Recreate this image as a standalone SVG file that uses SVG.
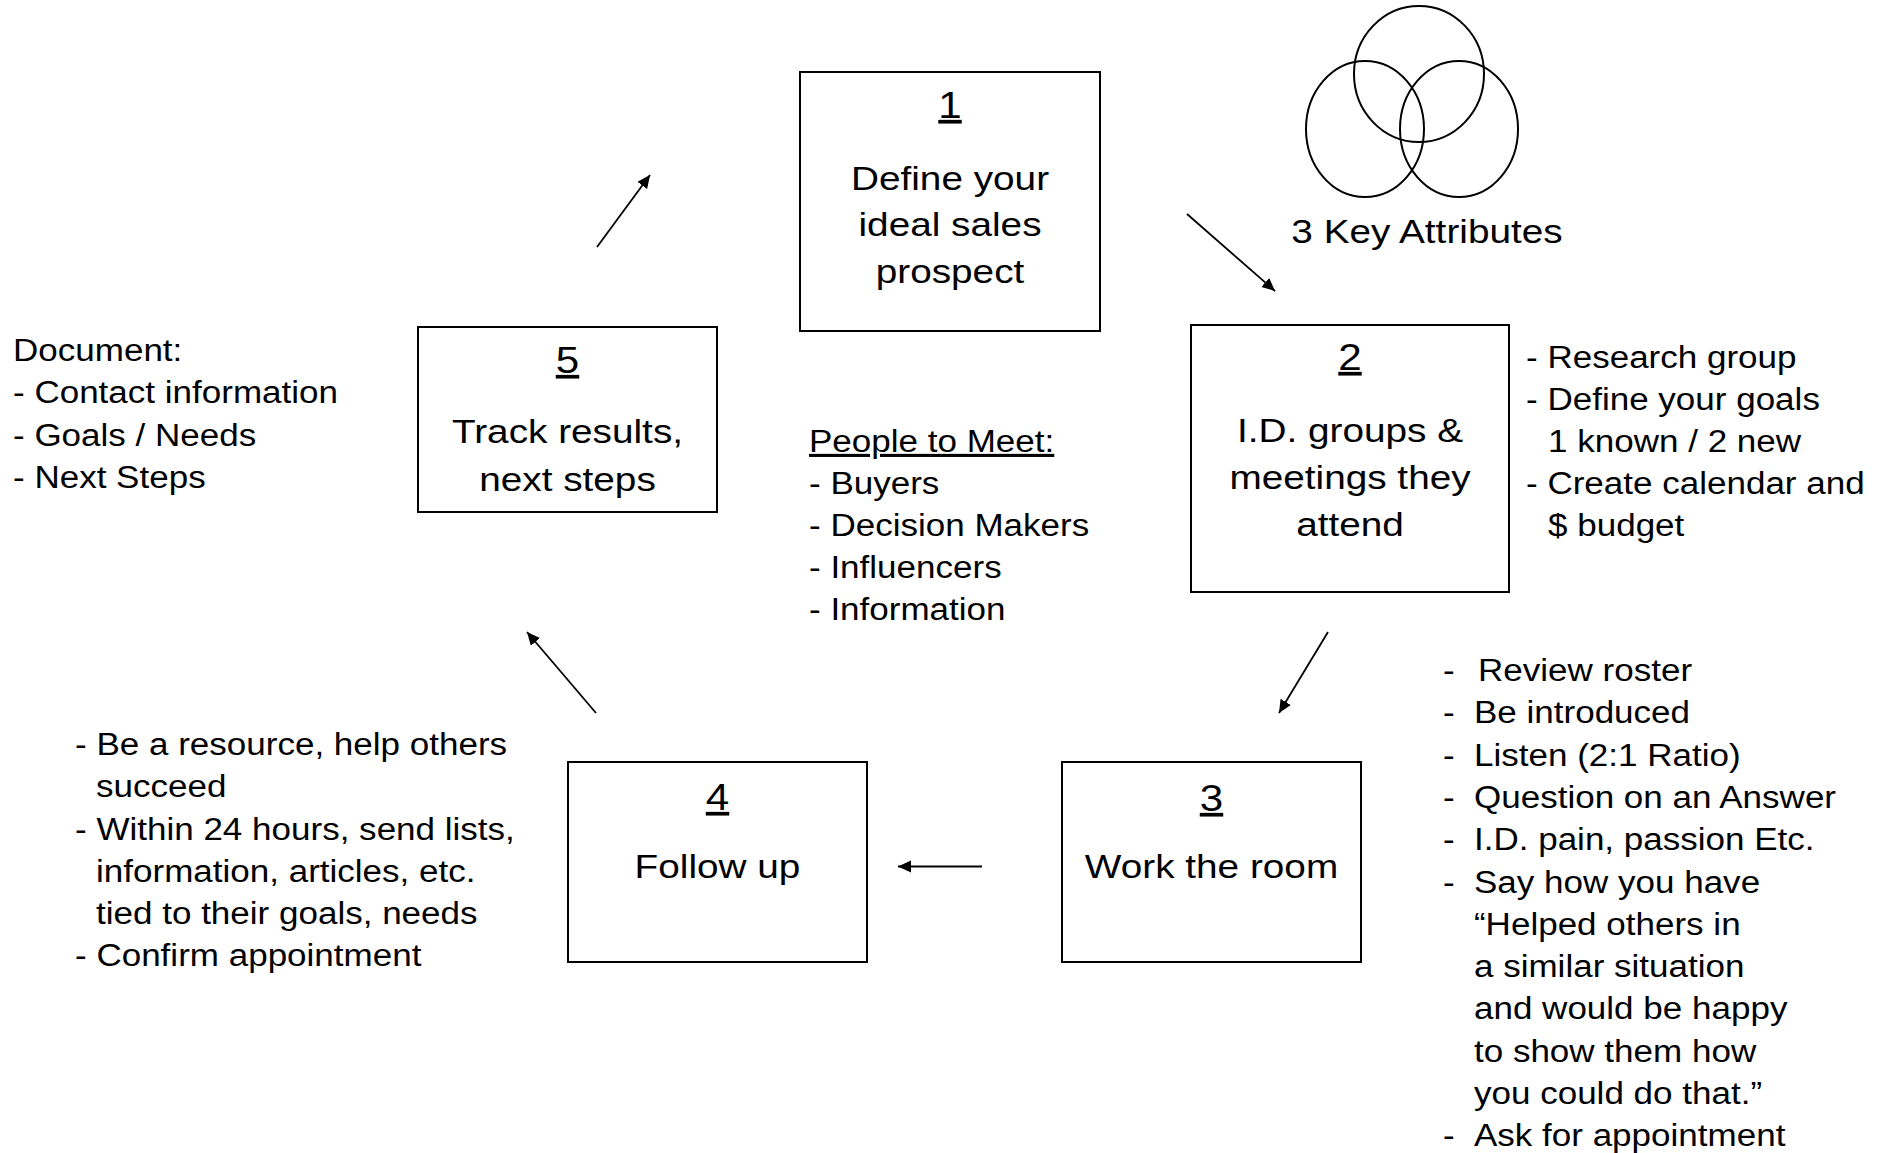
<svg xmlns="http://www.w3.org/2000/svg" width="1883" height="1153" viewBox="0 0 1883 1153">
<defs>
<marker id="ah" markerUnits="userSpaceOnUse" markerWidth="14" markerHeight="13" refX="13" refY="6" orient="auto">
<path d="M0,0 L13,6 L0,12 z" fill="#000"/>
</marker>
<style>
.box{fill:#fff;stroke:#000;stroke-width:2}
.ell{fill:none;stroke:#000;stroke-width:2}
.con{stroke:#000;stroke-width:1.8;fill:none;marker-end:url(#ah)}
text{font-family:"Liberation Sans",Arial,sans-serif;fill:#000}
.big{font-size:34px}
.num{font-size:37px;text-decoration:underline}
.side{font-size:31px}
</style>
</defs>
<rect width="1883" height="1153" fill="#fff"/>

<g id="connectors">
<line class="con" x1="597" y1="247" x2="650" y2="175"/>
<line class="con" x1="1187" y1="214" x2="1275" y2="291"/>
<line class="con" x1="1328" y1="632" x2="1279" y2="713"/>
<line class="con" x1="982" y1="866.5" x2="898" y2="866.5"/>
<line class="con" x1="596" y1="713" x2="527" y2="632"/>
</g>

<g id="node1">
<rect class="box" x="800" y="72" width="300" height="259"/>
<text class="num" text-anchor="middle" transform="translate(950,118) scale(1.14,1)">1</text>
<text class="big" text-anchor="middle" transform="translate(950,0) scale(1.14,1)"><tspan x="0" y="190">Define your</tspan><tspan x="0" y="236">ideal sales</tspan><tspan x="0" y="283">prospect</tspan></text>
</g>

<g id="attributes">
<ellipse class="ell" cx="1419" cy="74" rx="65" ry="68"/>
<ellipse class="ell" cx="1365" cy="129" rx="59" ry="68"/>
<ellipse class="ell" cx="1459" cy="129" rx="59" ry="68"/>
<text class="big" text-anchor="middle" transform="translate(1427,243) scale(1.14,1)">3 Key Attributes</text>
</g>

<g id="node2">
<rect class="box" x="1191" y="325" width="318" height="267"/>
<text class="num" text-anchor="middle" transform="translate(1350,370) scale(1.14,1)">2</text>
<text class="big" text-anchor="middle" transform="translate(1350,0) scale(1.14,1)"><tspan x="0" y="442">I.D. groups &amp;</tspan><tspan x="0" y="489">meetings they</tspan><tspan x="0" y="536">attend</tspan></text>
</g>
<g id="node2-notes">
<text class="side" transform="translate(1526,0) scale(1.13,1)"><tspan x="0" y="368">- Research group</tspan><tspan x="0" y="410">- Define your goals</tspan><tspan x="19.5" y="452">1 known / 2 new</tspan><tspan x="0" y="494">- Create calendar and</tspan><tspan x="19.5" y="536">$ budget</tspan></text>
</g>

<g id="node3">
<rect class="box" x="1062" y="762" width="299" height="200"/>
<text class="num" text-anchor="middle" transform="translate(1211.5,811) scale(1.14,1)">3</text>
<text class="big" text-anchor="middle" transform="translate(1211.5,878) scale(1.14,1)">Work the room</text>
</g>
<g id="node3-notes">
<text class="side" transform="translate(1443,0) scale(1.13,1)">
<tspan x="0" y="681">-</tspan><tspan x="31" y="681">Review roster</tspan>
<tspan x="0" y="723">-</tspan><tspan x="27.4" y="723">Be introduced</tspan>
<tspan x="0" y="766">-</tspan><tspan x="27.4" y="766">Listen (2:1 Ratio)</tspan>
<tspan x="0" y="808">-</tspan><tspan x="27.4" y="808">Question on an Answer</tspan>
<tspan x="0" y="850">-</tspan><tspan x="27.4" y="850">I.D. pain, passion Etc.</tspan>
<tspan x="0" y="893">-</tspan><tspan x="27.4" y="893">Say how you have</tspan>
<tspan x="27.4" y="935">“Helped others in</tspan>
<tspan x="27.4" y="977">a similar situation</tspan>
<tspan x="27.4" y="1019">and would be happy</tspan>
<tspan x="27.4" y="1062">to show them how</tspan>
<tspan x="27.4" y="1104">you could do that.”</tspan>
<tspan x="0" y="1146">-</tspan><tspan x="27.4" y="1146">Ask for appointment</tspan>
</text>
</g>

<g id="node4">
<rect class="box" x="568" y="762" width="299" height="200"/>
<text class="num" text-anchor="middle" transform="translate(717.5,810) scale(1.14,1)">4</text>
<text class="big" text-anchor="middle" transform="translate(717.5,878) scale(1.14,1)">Follow up</text>
</g>
<g id="node4-notes">
<text class="side" transform="translate(75,0) scale(1.13,1)"><tspan x="0" y="755">- Be a resource, help others</tspan><tspan x="18.6" y="797">succeed</tspan><tspan x="0" y="840">- Within 24 hours, send lists,</tspan><tspan x="18.6" y="882">information, articles, etc.</tspan><tspan x="18.6" y="924">tied to their goals, needs</tspan><tspan x="0" y="966">- Confirm appointment</tspan></text>
</g>

<g id="node5">
<rect class="box" x="418" y="327" width="299" height="185"/>
<text class="num" text-anchor="middle" transform="translate(567.5,373) scale(1.14,1)">5</text>
<text class="big" text-anchor="middle" transform="translate(567.5,0) scale(1.14,1)"><tspan x="0" y="443">Track results,</tspan><tspan x="0" y="491">next steps</tspan></text>
</g>
<g id="node5-notes">
<text class="side" transform="translate(13,0) scale(1.13,1)"><tspan x="0" y="361">Document:</tspan><tspan x="0" y="403">- Contact information</tspan><tspan x="0" y="446">- Goals / Needs</tspan><tspan x="0" y="488">- Next Steps</tspan></text>
</g>

<g id="people">
<text class="side" transform="translate(809,0) scale(1.13,1)"><tspan x="0" y="452" text-decoration="underline">People to Meet:</tspan><tspan x="0" y="494">- Buyers</tspan><tspan x="0" y="536">- Decision Makers</tspan><tspan x="0" y="578">- Influencers</tspan><tspan x="0" y="620">- Information</tspan></text>
</g>
</svg>
